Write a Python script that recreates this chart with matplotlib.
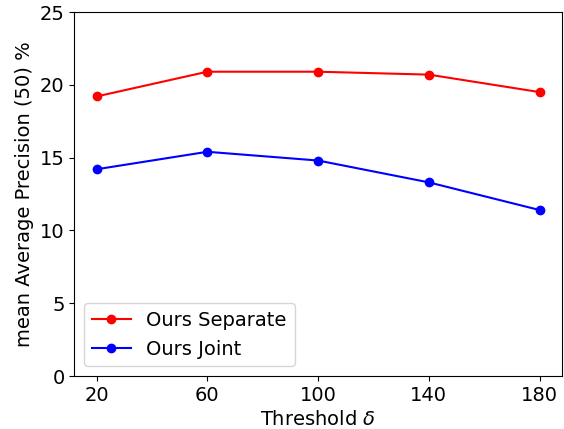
import matplotlib
matplotlib.use("Agg")
import matplotlib.pyplot as plt

thresholds = [20, 60, 100, 140, 180]
ours_separate = [19.2, 20.9, 20.9, 20.7, 19.5]
ours_joint = [14.2, 15.4, 14.8, 13.3, 11.4]

plt.rcParams['font.size'] = 14

fig, ax = plt.subplots(figsize=(5.64, 4.29), dpi=100)
fig.subplots_adjust(left=0.132, right=0.996, top=0.972, bottom=0.1235)

ax.plot(thresholds, ours_separate, color='red', marker='o', label='Ours Separate')
ax.plot(thresholds, ours_joint, color='blue', marker='o', label='Ours Joint')

ax.set_ylim(0, 25)
ax.set_xticks(thresholds)
ax.set_xlabel(r'Threshold $\delta$')
ax.set_ylabel('mean Average Precision (50) %')
ax.legend(loc='lower left')

plt.savefig('out.png')
